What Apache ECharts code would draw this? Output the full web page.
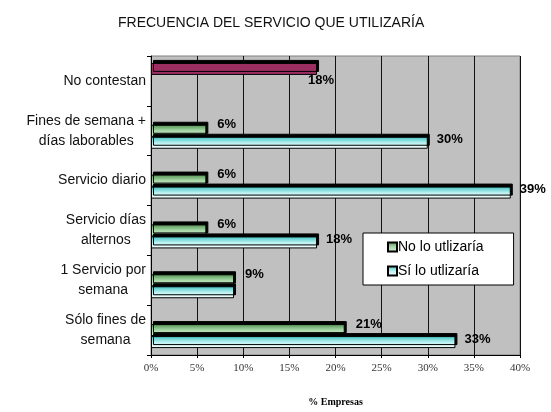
<!DOCTYPE html>
<html>
<head>
<meta charset="utf-8">
<script src="https://cdn.jsdelivr.net/npm/echarts@6/dist/echarts.min.js"></script>
<style>
  html, body { margin: 0; padding: 0; background: #fff; }
  #chart { width: 551px; height: 412px; }
</style>
</head>
<body>
<div id="chart"></div>
<script>
// categorias, de arriba a abajo
const categorias = ['No contestan', 'Fines de semana +\ndías laborables', 'Servicio diario',
  'Servicio días\nalternos', '1 Servicio por\nsemana', 'Sólo fines de\nsemana'];
const noContestan = [18, null, null, null, null, null];
const noLoUtilizaria = [null, 6, 6, 6, 9, 21];
const siLoUtilizaria = [null, 30, 39, 18, 9, 33];
const ticksX = [0, 5, 10, 15, 20, 25, 30, 35, 40];

const chart = echarts.init(document.getElementById('chart'));

// efecto 3D sencillo: sombra negra arriba a la derecha
function estiloBarra(color) {
  return {
    color: color,
    borderColor: '#000',
    borderWidth: 1,
    shadowColor: '#000',
    shadowOffsetX: 2,
    shadowOffsetY: -3,
    shadowBlur: 0
  };
}

const verde = new echarts.graphic.LinearGradient(0, 0, 0, 1, [
  { offset: 0, color: '#4f8f4f' }, { offset: 0.5, color: '#a8d8a8' }, { offset: 1, color: '#d8f0d8' }
]);
const cian = new echarts.graphic.LinearGradient(0, 0, 0, 1, [
  { offset: 0, color: '#3cc0c0' }, { offset: 0.5, color: '#b8f0f0' }, { offset: 1, color: '#ffffff' }
]);

const etiqueta = (offset) => ({
  show: true,
  position: 'right',
  offset: offset,
  formatter: p => p.value == null ? '' : p.value + '%',
  fontFamily: 'Liberation Sans, Arial',
  fontWeight: 'bold',
  fontSize: 13,
  color: '#000'
});

// si el valor coincide con la barra verde, la etiqueta se omite (como en el original)
const datosSi = siLoUtilizaria.map((v, i) =>
  v !== null && v === noLoUtilizaria[i] ? { value: v, label: { show: false } } : v);

const option = {
  animation: false,
  title: {
    text: 'FRECUENCIA DEL SERVICIO QUE UTILIZARÍA',
    left: 113,
    top: 11,
    textStyle: { fontFamily: 'Liberation Sans, Arial', fontSize: 14, fontWeight: 'normal', color: '#111' }
  },
  legend: {
    data: ['No lo utlizaría', 'Sí lo utlizaría'],
    orient: 'vertical',
    left: 363,
    top: 233,
    backgroundColor: '#fff',
    borderColor: '#000',
    borderWidth: 1,
    padding: [7, 30, 7, 24],
    itemGap: 10,
    itemWidth: 9,
    itemHeight: 9,
    icon: 'rect',
    textStyle: { fontFamily: 'Liberation Sans, Arial', fontSize: 14, color: '#000', padding: [0, 0, 0, -4] }
  },
  grid: { left: 151, right: 31, top: 56, bottom: 50, show: true, backgroundColor: '#c0c0c0', borderColor: '#808080', borderWidth: 1 },
  xAxis: {
    type: 'value',
    min: 0,
    max: 40,
    interval: 5,
    name: '% Empresas',
    nameLocation: 'middle',
    nameGap: 42,
    nameTextStyle: { fontFamily: 'Liberation Serif, Times New Roman', fontSize: 10, fontWeight: 'bold', color: '#000' },
    axisLine: { show: true, lineStyle: { color: '#000', width: 1 } },
    axisTick: { show: true, length: 3, lineStyle: { color: '#000' } },
    axisLabel: {
      formatter: v => v + '%',
      fontFamily: 'Liberation Serif, Times New Roman',
      fontSize: 11,
      color: '#333',
      margin: 8,
      customValues: ticksX
    },
    splitLine: { show: true, lineStyle: { color: '#111', width: 1 } }
  },
  yAxis: {
    type: 'category',
    data: categorias,
    inverse: true,
    axisLine: { show: true, lineStyle: { color: '#000' } },
    axisTick: { show: true, length: 4, lineStyle: { color: '#000' } },
    axisLabel: {
      margin: 5,
      formatter: v => v.split('\n').map(l => '{a|' + l + '}').join('\n'),
      rich: { a: { align: 'center', fontFamily: 'Liberation Sans, Arial', fontSize: 14, color: '#111', lineHeight: 20 } }
    }
  },
  series: [
    {
      name: 'No contestan',
      type: 'bar',
      data: noContestan,
      barWidth: 12,
      barGap: '0%',
      itemStyle: estiloBarra('#9b2f62'),
      label: etiqueta([-14, 12])
    },
    {
      name: 'No lo utlizaría',
      type: 'bar',
      data: noLoUtilizaria,
      barWidth: 12,
      barGap: '0%',
      itemStyle: estiloBarra(verde),
      label: etiqueta([6, -6])
    },
    {
      name: 'Sí lo utlizaría',
      type: 'bar',
      data: datosSi,
      barWidth: 12,
      barGap: '0%',
      itemStyle: estiloBarra(cian),
      label: etiqueta([4, -3])
    }
  ]
};

chart.setOption(option);
</script>
</body>
</html>
